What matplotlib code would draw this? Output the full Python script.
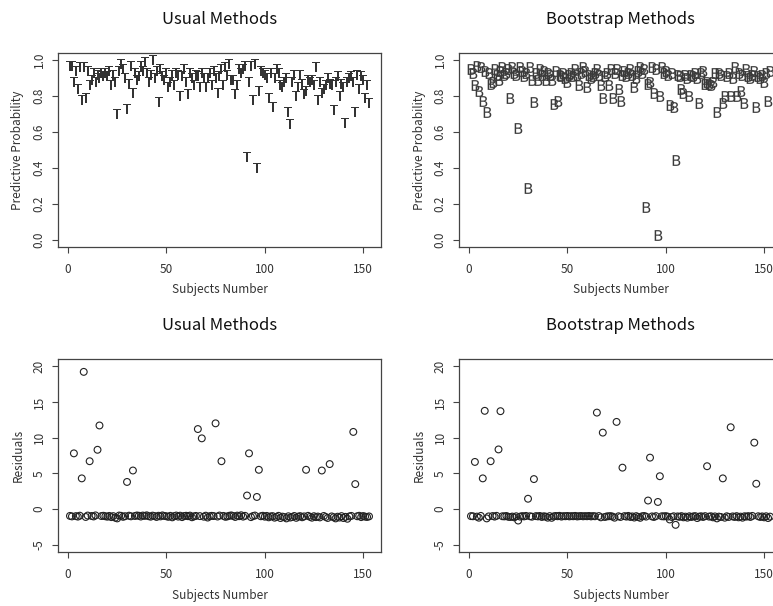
import matplotlib
matplotlib.use("Agg")
import matplotlib.pyplot as plt
import numpy as np

plt.rcParams['font.family'] = ['Noto Sans CJK JP', 'DejaVu Sans']

subjects = list(range(1, 154))

prob_usual = [
0.97,0.97,0.88,0.94,0.84,0.96,0.78,0.96,0.79,0.94,
0.86,0.89,0.93,0.88,0.92,0.90,0.93,0.91,0.93,0.91,
0.94,0.86,0.92,0.88,0.70,0.94,0.98,0.95,0.90,0.73,
0.87,0.97,0.82,0.93,0.89,0.91,0.97,0.94,0.99,0.93,
0.88,0.92,1.00,0.90,0.94,0.77,0.95,0.91,0.89,0.93,
0.85,0.88,0.92,0.86,0.93,0.92,0.80,0.91,0.95,0.88,
0.81,0.93,0.90,0.86,0.92,0.91,0.85,0.93,0.90,0.85,
0.90,0.93,0.86,0.94,0.90,0.82,0.91,0.95,0.86,0.96,
0.92,0.98,0.89,0.89,0.81,0.86,0.95,0.93,0.95,0.97,
0.46,0.88,0.97,0.78,0.98,0.40,0.83,0.94,0.93,0.92,
0.90,0.79,0.93,0.74,0.90,0.95,0.93,0.86,0.85,0.88,
0.90,0.71,0.645,0.88,0.92,0.80,0.85,0.92,0.87,0.81,
0.83,0.89,0.88,0.89,0.86,0.96,0.78,0.88,0.82,0.84,
0.86,0.90,0.87,0.86,0.72,0.88,0.91,0.80,0.87,0.85,
0.65,0.88,0.90,0.91,0.88,0.71,0.92,0.84,0.91,0.89,
0.79,0.86,0.76]

prob_boot = [
0.95,0.93,0.86,0.97,0.83,0.96,0.775,0.94,0.71,0.93,
0.87,0.88,0.95,0.92,0.89,0.94,0.96,0.92,0.93,0.95,
0.79,0.96,0.93,0.92,0.62,0.96,0.94,0.91,0.93,0.29,
0.96,0.89,0.765,0.93,0.89,0.95,0.92,0.94,0.89,0.93,
0.92,0.89,0.755,0.94,0.775,0.92,0.91,0.93,0.90,0.88,
0.92,0.93,0.91,0.95,0.92,0.86,0.93,0.96,0.94,0.85,
0.92,0.90,0.91,0.93,0.95,0.92,0.86,0.79,0.91,0.93,
0.86,0.95,0.79,0.93,0.95,0.84,0.775,0.92,0.94,0.91,
0.93,0.95,0.92,0.85,0.90,0.94,0.96,0.93,0.95,0.18,
0.87,0.88,0.96,0.82,0.95,0.025,0.80,0.96,0.93,0.94,
0.92,0.75,0.93,0.74,0.446,0.92,0.91,0.84,0.82,0.92,
0.90,0.80,0.92,0.91,0.93,0.90,0.76,0.93,0.94,0.87,
0.88,0.87,0.86,0.88,0.93,0.71,0.93,0.92,0.76,0.80,
0.91,0.93,0.80,0.90,0.96,0.80,0.93,0.83,0.92,0.76,
0.95,0.91,0.90,0.92,0.94,0.74,0.91,0.90,0.92,0.88,
0.93,0.775,0.94]

res_usual = [
-0.95,-1.02,7.8,-0.98,-1.05,-0.92,4.3,19.2,-1.10,-0.90,
6.7,-0.96,-1.03,-0.88,8.3,11.7,-0.97,-0.93,-1.00,-1.06,
-0.95,-1.12,-0.98,-1.20,-1.30,-0.90,-0.94,-1.08,-0.99,3.8,
-0.92,-1.01,5.4,-0.96,-0.89,-0.93,-1.04,-0.90,-0.95,-0.87,
-0.99,-1.06,-0.91,-0.97,-1.10,-0.93,-1.02,-0.88,-0.96,-1.00,
-1.08,-0.94,-1.15,-0.98,-0.90,-1.05,-0.92,-1.12,-0.97,-0.93,
-0.99,-0.91,-1.14,-1.02,-0.95,11.2,-0.98,9.9,-1.06,-0.92,
-1.18,-1.00,-0.94,-0.97,12.0,-1.04,-0.90,6.7,-0.95,-1.08,
-1.02,-0.93,-0.88,-0.96,-1.10,-0.91,-0.99,-0.86,-1.05,-0.94,
1.9,7.8,-1.12,-0.97,-0.90,1.7,5.5,-1.00,-0.93,-1.06,
-0.95,-1.15,-1.02,-0.98,-1.20,-1.08,-0.94,-1.25,-1.05,-1.12,
-1.30,-1.00,-1.18,-1.10,-0.96,-1.22,-1.05,-0.98,-1.14,-1.02,
5.5,-0.94,-1.08,-1.20,-0.99,-1.12,-1.04,-1.16,5.4,-0.96,
-1.10,-1.24,6.3,-1.02,-1.14,-1.30,-1.06,-1.18,-0.98,-1.25,
-1.08,-1.35,-1.02,-0.95,10.8,3.5,-1.00,-0.93,-1.12,-0.97,
-1.05,-1.10,-1.02]

res_boot = [
-0.98,-1.00,6.6,-1.05,-1.20,-0.95,4.3,13.75,-1.30,-1.02,
6.7,-0.97,-1.05,-0.94,8.35,13.7,-1.00,-1.02,-0.96,-1.08,
-1.10,-1.04,-1.15,-1.00,-1.60,-1.05,-0.98,-1.02,-0.95,1.45,
-1.00,-1.06,4.2,-0.98,-1.02,-0.96,-1.10,-1.00,-1.05,-1.20,
-0.98,-1.22,-1.02,-0.96,-1.00,-0.94,-1.05,-0.98,-1.00,-0.96,
-1.02,-0.98,-1.00,-0.95,-1.03,-0.99,-0.97,-1.01,-0.98,-1.00,
-0.96,-1.02,-0.98,-1.00,13.5,-0.97,-1.15,10.7,-1.10,-1.02,
-1.00,-0.98,-1.05,-1.20,12.2,-1.00,-1.10,5.8,-0.98,-1.05,
-0.95,-1.10,-1.02,-1.18,-0.98,-1.10,-1.22,-1.00,-0.96,-1.05,
1.2,7.2,-1.02,-1.10,-0.98,1.0,4.6,-1.00,-1.02,-0.98,
-1.05,-1.45,-1.10,-1.00,-2.20,-1.02,-1.08,-0.98,-1.15,-1.05,
-1.20,-1.00,-1.10,-1.02,-0.98,-1.25,-1.05,-1.00,-1.10,-0.98,
6.0,-1.05,-1.00,-1.15,-1.02,-1.30,-1.05,-1.10,4.3,-1.20,
-1.00,-1.10,11.45,-1.02,-1.10,-0.98,-1.15,-1.05,-1.20,-1.00,
-1.05,-0.98,-1.10,-0.95,9.3,3.55,-1.00,-1.10,-1.02,-1.15,
-1.00,-1.25,-1.05]

x_ticks = [0, 50, 100, 150]
prob_ticks = [0.0, 0.2, 0.4, 0.6, 0.8, 1.0]
res_ticks = [-5, 0, 5, 10, 15, 20]

W, H = 773, 606
fig = plt.figure(figsize=(W / 100, H / 100), dpi=100)

axw, axh_top, axh_bot = 323, 194, 193
positions = {
    'tl': (58, 53, axh_top), 'tr': (459, 53, axh_top),
    'bl': (58, 359, axh_bot), 'br': (459, 359, axh_bot),
}

def make_ax(key):
    x0, y0, h = positions[key]
    ax = fig.add_axes([x0 / W, 1 - (y0 + h) / H, axw / W, h / H])
    return ax, h

def style(ax, h, title, ylabel, yticks, ylim, yticklabels):
    n = len(subjects)
    pad = 0.04 * (n - 1)
    ax.set_xlim(1 - pad, n + pad)
    rng = ylim[1] - ylim[0]
    ax.set_ylim(ylim[0] - 0.04 * rng, ylim[1] + 0.04 * rng)
    ax.set_xticks(x_ticks)
    ax.set_yticks(yticks)
    ax.set_yticklabels(yticklabels)
    for s in ax.spines.values():
        s.set_color('#444444')
        s.set_linewidth(0.9)
    ax.tick_params(direction='out', length=4.5, width=0.8, color='#444444',
                   labelsize=8.5, labelcolor='#333333')
    ax.tick_params(axis='x', pad=7)
    ax.tick_params(axis='y', pad=9)
    for lab in ax.get_yticklabels():
        lab.set_rotation(90)
        lab.set_va('center')
        lab.set_ha('center')
    ax.text(0.5, 1 + 33 / h, title, transform=ax.transAxes, ha='center',
            va='center', fontsize=12, color='#111111')
    ax.text(0.5, -43 / h, 'Subjects Number', transform=ax.transAxes,
            ha='center', va='center', fontsize=8.5, color='#333333')
    ax.text(-40 / axw, 0.5, ylabel, transform=ax.transAxes, ha='center',
            va='center', rotation=90, fontsize=8.5, color='#333333')

prob_lab = ['0.0', '0.2', '0.4', '0.6', '0.8', '1.0']
res_lab = ['-5', '0', '5', '10', '15', '20']

ax, h = make_ax('tl')
ax.scatter(subjects, prob_usual, marker=r'$\mathsf{T}$', s=55, c='#333333',
           linewidths=0)
style(ax, h, 'Usual Methods', 'Predictive Probability', prob_ticks, (0, 1), prob_lab)

ax, h = make_ax('tr')
ax.scatter(subjects, prob_boot, marker=r'$\mathsf{B}$', s=60, c='#3a3a3a',
           linewidths=0)
style(ax, h, 'Bootstrap Methods', 'Predictive Probability', prob_ticks, (0, 1), prob_lab)

ax, h = make_ax('bl')
ax.scatter(subjects, res_usual, marker='o', s=24, facecolors='none',
           edgecolors='#222222', linewidths=0.8)
style(ax, h, 'Usual Methods', 'Residuals', res_ticks, (-5, 20), res_lab)

ax, h = make_ax('br')
ax.scatter(subjects, res_boot, marker='o', s=24, facecolors='none',
           edgecolors='#222222', linewidths=0.8)
style(ax, h, 'Bootstrap Methods', 'Residuals', res_ticks, (-5, 20), res_lab)

fig.savefig('out.png', dpi=100)
